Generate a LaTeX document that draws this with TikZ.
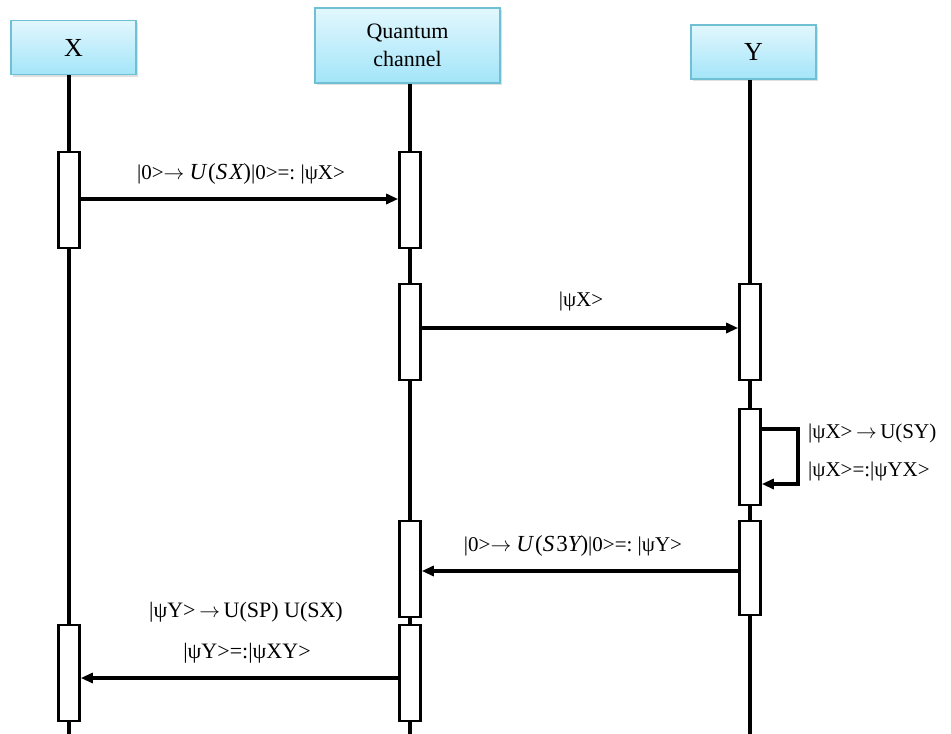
\documentclass[tikz,border=0pt]{standalone}
\usepackage{fontspec}
\setmainfont{Liberation Serif}
\usetikzlibrary{arrows.meta,shadows}
\definecolor{hdtop}{RGB}{226,247,253}
\definecolor{hdbot}{RGB}{163,229,249}
\definecolor{hdline}{RGB}{112,192,212}
\tikzset{
  header/.style={draw=hdline, line width=1.5pt, top color=hdtop, bottom color=hdbot,
    minimum width=125pt, minimum height=54pt, align=center, font=\fontsize{26}{28}\selectfont,
    drop shadow={opacity=0.25, shadow xshift=2pt, shadow yshift=-2pt}},
  lifeline/.style={line width=3.4pt, black},
  actbar/.style={draw, line width=2.6pt, fill=white, minimum width=21pt, minimum height=96pt, inner sep=0pt},
  msg/.style={line width=3.4pt, -{Triangle[length=12pt,width=10pt]}},
  lbl/.style={font=\fontsize{21}{24}\selectfont, inner sep=0pt},
}
% operator part of a label, set a little larger
\newcommand{\opsz}{\fontsize{23}{24}\selectfont}
\newcommand{\op}[1]{{\opsz\itshape #1}}
\newcommand{\ra}{\,$\rightarrow$\,}
\begin{document}
\begin{tikzpicture}[x=1pt,y=-1pt]
\useasboundingbox (0,0) rectangle (951,734);
% participants
\node[header] (hx) at (73.5,47.5) {X};
\node[header, minimum width=185pt, minimum height=75pt, font=\fontsize{22}{28}\selectfont] (hq) at (407.5,45.5) {Quantum\\channel};
\node[header] (hy) at (753.5,52) {Y};
% lifelines
\coordinate (ex) at (69,734);
\coordinate (eq) at (410,734);
\coordinate (ey) at (750,734);
\draw[lifeline] (hx.south -| ex) -- (ex);
\draw[lifeline] (hq.south -| eq) -- (eq);
\draw[lifeline] (hy.south -| ey) -- (ey);
% activation bars
\node[actbar] (xa1) at (69,200) {};
\node[actbar] (qa1) at (410,200) {};
\node[actbar] (qa2) at (410,332) {};
\node[actbar] (ya1) at (750,332) {};
\node[actbar] (ya2) at (750,457) {};
\node[actbar] (qa3) at (410,569) {};
\node[actbar, minimum height=94pt] (ya3) at (750,568) {};
\node[actbar] (xa2) at (69,673) {};
\node[actbar] (qa4) at (410,673) {};
% messages
\draw[msg] ([yshift=1pt]xa1.east) -- ([yshift=1pt]qa1.west);
\node[lbl] (l1) at (241,174) {|0>$\rightarrow$\ \op{U}\kern2pt{\opsz(}\op{S\kern2pt X}{\opsz)}|0>=:\ |ψX>};
\draw[msg] ([yshift=4pt]qa2.east) -- ([yshift=4pt]ya1.west);
\node[lbl] (l2) at (581,301) {|ψX>};
\draw[msg] ([yshift=28pt]ya2.east) -- ++(36,0) |- ([yshift=-27pt]ya2.east);
\node[lbl, anchor=west] (l3a) at (808,433) {|ψX>\ra U(SY)};
\node[lbl, anchor=west] (l3b) at (808,471) {|ψX>=:|ψYX>};
\draw[msg] ([yshift=-3pt]ya3.west) -- ([yshift=-2pt]qa3.east);
\node[lbl] (l4) at (573,546) {|0>$\rightarrow$\ \op{U}\kern2pt{\opsz(}\op{S}\kern2pt{\opsz 3}\op{Y}{\opsz)}|0>=:\ |ψY>};
\draw[msg] ([yshift=-5pt]qa4.west) -- ([yshift=-5pt]xa2.east);
\node[lbl, font=\fontsize{22}{24}\selectfont] (l5a) at (246,612) {|ψY>\ra U(SP) U(SX)};
\node[lbl, font=\fontsize{22}{24}\selectfont] (l5b) at (247,653) {|ψY>=:|ψXY>};
\end{tikzpicture}
\end{document}
